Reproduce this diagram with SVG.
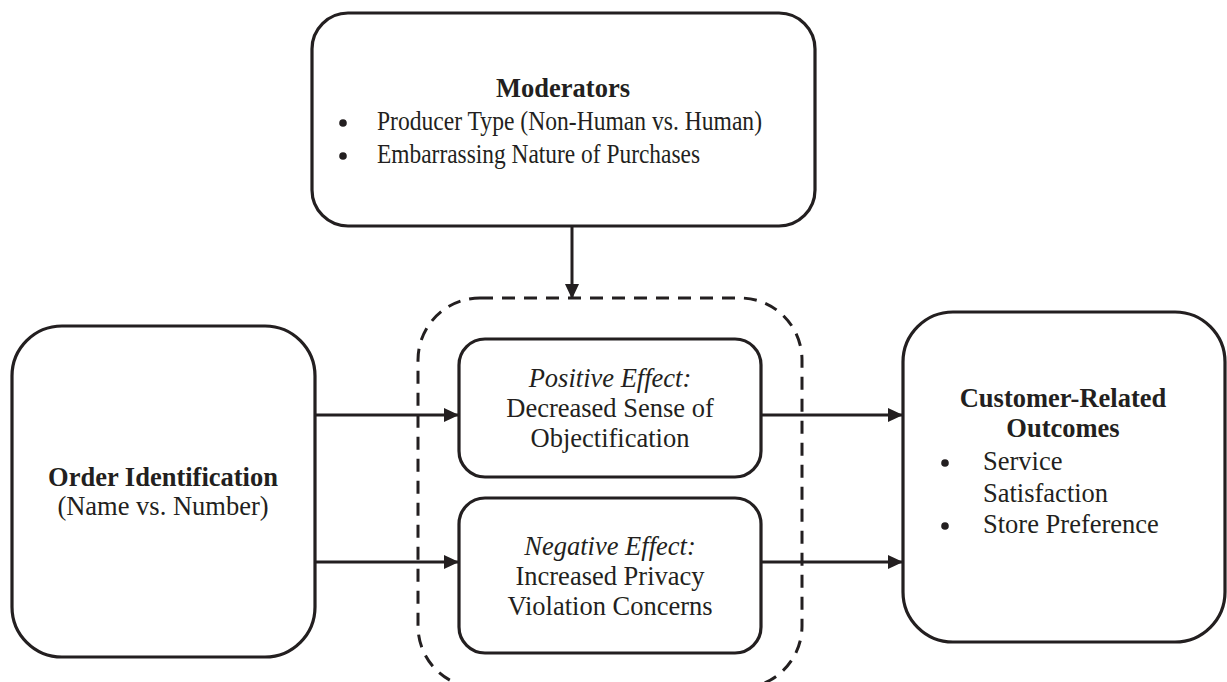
<svg xmlns="http://www.w3.org/2000/svg" width="1227" height="682" viewBox="0 0 1227 682">
<style>
.box{fill:#fff;stroke:#231f20;stroke-width:3.2}
.dash{fill:none;stroke:#231f20;stroke-width:3;stroke-dasharray:13 9}
.t{font-size:26.5px;fill:#231f20}
.b{font-weight:bold}
.i{font-style:italic}
.c{text-anchor:middle}
.ln{stroke:#231f20;stroke-width:3;fill:none}
</style>
<defs>
<marker id="ah" viewBox="0 0 15 14" refX="15" refY="7" markerWidth="15" markerHeight="14" markerUnits="userSpaceOnUse" orient="auto">
<path d="M0,0 L15,7 L0,14 Z" fill="#231f20"/>
</marker>
</defs>
<rect width="1227" height="682" fill="#fff"/>
<g id="mediator-group">
<rect class="dash" x="418" y="298" width="384" height="390" rx="62"/>
</g>
<g font-family="Liberation Serif, Tinos, Times New Roman, serif">
<g id="moderators">
<rect class="box" x="312" y="13" width="503" height="213" rx="36"/>
<text class="t b c" x="563" y="97">Moderators</text>
<circle cx="343" cy="123" r="3.8" fill="#231f20"/>
<text class="t" x="377" y="130" textLength="385" lengthAdjust="spacingAndGlyphs">Producer Type (Non-Human vs. Human)</text>
<circle cx="343" cy="156" r="3.8" fill="#231f20"/>
<text class="t" x="377" y="163" textLength="323" lengthAdjust="spacingAndGlyphs">Embarrassing Nature of Purchases</text>
</g>
<g id="order-identification">
<rect class="box" x="12" y="326" width="303" height="331" rx="50"/>
<text class="t b c" x="163" y="486">Order Identification</text>
<text class="t c" x="163" y="515">(Name vs. Number)</text>
</g>
<g id="positive-effect">
<rect class="box" x="459" y="339" width="302" height="138" rx="26"/>
<text class="t i c" x="610" y="387">Positive Effect:</text>
<text class="t c" x="610" y="417">Decreased Sense of</text>
<text class="t c" x="610" y="447">Objectification</text>
</g>
<g id="negative-effect">
<rect class="box" x="459" y="498" width="302" height="155" rx="26"/>
<text class="t i c" x="610" y="555">Negative Effect:</text>
<text class="t c" x="610" y="585">Increased Privacy</text>
<text class="t c" x="610" y="615">Violation Concerns</text>
</g>
<g id="customer-outcomes">
<rect class="box" x="903" y="312" width="322" height="330" rx="50"/>
<text class="t b c" x="1063" y="407">Customer-Related</text>
<text class="t b c" x="1063" y="437">Outcomes</text>
<circle cx="945" cy="463" r="3.8" fill="#231f20"/>
<text class="t" x="983" y="470">Service</text>
<text class="t" x="983" y="502">Satisfaction</text>
<circle cx="945" cy="526" r="3.8" fill="#231f20"/>
<text class="t" x="983" y="533">Store Preference</text>
</g>
</g>
<g id="connectors">
<line class="ln" x1="572" y1="226" x2="572" y2="299" marker-end="url(#ah)"/>
<line class="ln" x1="315" y1="415" x2="459" y2="415" marker-end="url(#ah)"/>
<line class="ln" x1="315" y1="562" x2="459" y2="562" marker-end="url(#ah)"/>
<line class="ln" x1="761" y1="415" x2="903" y2="415" marker-end="url(#ah)"/>
<line class="ln" x1="761" y1="562" x2="903" y2="562" marker-end="url(#ah)"/>
</g>
</svg>
